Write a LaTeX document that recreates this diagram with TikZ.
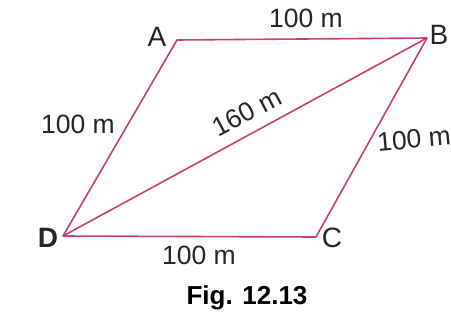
\documentclass[tikz,border=0pt]{standalone}
\usepackage{fontspec}
\setmainfont{Liberation Sans}
\usepackage{tikz}
\usetikzlibrary{positioning}
\definecolor{sidepink}{RGB}{205,60,120}

\begin{document}
\begin{tikzpicture}[x=1pt,y=-1pt,
  side/.style={sidepink,line width=1.6pt,line join=round},
  lab/.style={font=\fontsize{26.5}{28}\selectfont,text=black!85,inner sep=0pt},
  vlab/.style={font=\fontsize{28}{30}\selectfont,text=black!85,inner sep=0pt}]

\useasboundingbox (0,0) rectangle (451,330);

%% corners of the field
\coordinate (A) at (177,40);
\coordinate (B) at (427,38);
\coordinate (C) at (316,237);
\coordinate (D) at (63,236);

\draw[side] (D) -- (A) -- (B) -- (C) -- cycle;
\draw[side] (D) -- (B);

%% corner letters
\node[vlab] (labA) at (157,37) {A};
\node[vlab] (labB) at (439,35) {B};
\node[vlab] (labC) at (332,238) {C};
\node[vlab,font=\fontsize{28}{30}\selectfont\bfseries] (labD) at (48,238) {D};

%% lengths
\node[lab] (ab) at (306,18) {100 m};
\node[lab] (ad) at (78,124) {100 m};
\node[lab,rotate=28] (bd) at (247,112) {160 m};
\node[lab,rotate=5] (bc) at (414,139) {100 m};
\node[lab] (dc) at (199,255) {100 m};

\node[font=\fontsize{26}{28}\selectfont\bfseries,inner sep=0pt] (cap) at (247,298) {Fig. 12.13};
\end{tikzpicture}
\end{document}
